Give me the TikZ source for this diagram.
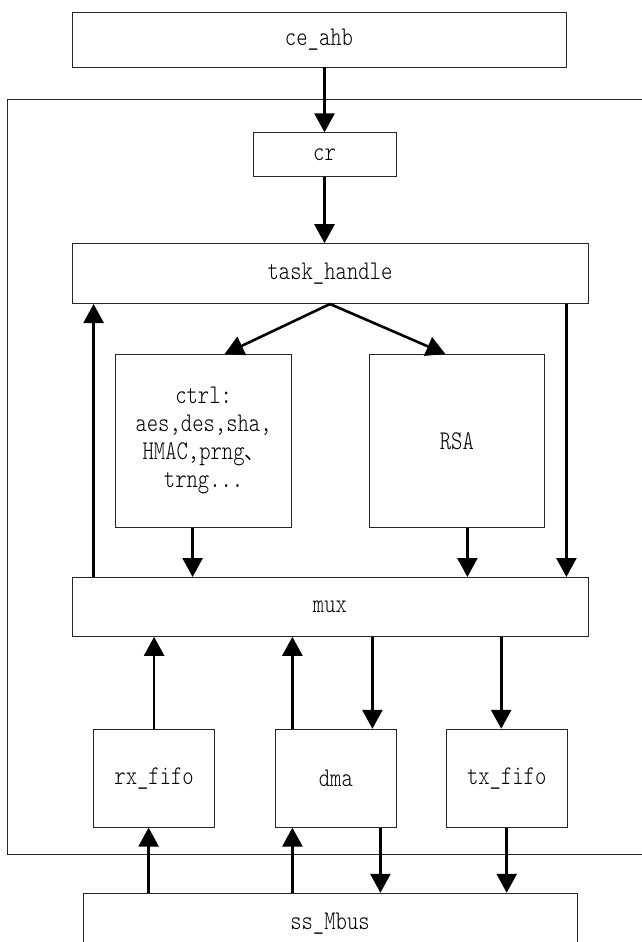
\documentclass[tikz,border=0pt]{standalone}
\usepackage{fontspec}
\newfontfamily\boxfont[FakeStretch=0.8]{lmmonolt10-regular.otf}
\newfontfamily\cjkfont{Noto Sans CJK SC}
\usetikzlibrary{arrows.meta, positioning}

\begin{document}
\begin{tikzpicture}[
        x=1pt, y=1pt,
        node distance=50pt and 60pt,
        font=\boxfont\fontsize{27}{28}\selectfont,
        unit_box/.style={
            rectangle,
            draw=black!85,
            line width=0.8pt,
            fill=white,
            align=center,
            inner sep=0pt
        },
        wide_box/.style={
            unit_box,
            minimum width=516pt,
            minimum height=60pt
        },
        fifo_box/.style={
            unit_box,
            minimum width=121pt,
            minimum height=98pt
        },
        flow/.style={
            -{Triangle[length=19pt, width=20pt]},
            line width=2.6pt
        }
    ]
    \clip (0,0) rectangle (642,-942);

    % Outer frame (runs off the right edge)
    \draw[line width=0.8pt, draw=black!85] (660,-99) -- (7,-99) -- (7,-854) -- (660,-854);

    % Bus interface and config
    \node[unit_box, minimum width=494pt, minimum height=55pt] (ce_ahb) at (319,-39.5) {ce\_ahb};
    \node[unit_box, minimum width=143pt, minimum height=44pt, below=65pt of ce_ahb, xshift=5.5pt] (cr) {cr};
    \node[wide_box, below=66pt of cr, xshift=5.5pt] (task_handle) {task\_handle};

    % Crypto engines
    \node[unit_box, minimum width=176pt, minimum height=173pt, below=50pt of task_handle.south west, xshift=132pt] (ctrl) {ctrl:\\aes,des,sha,\\HMAC,prng{\cjkfont\fontsize{20}{28}\selectfont 、}\\trng...};
    \node[unit_box, minimum width=175pt, minimum height=173pt, right=77pt of ctrl] (rsa) {RSA};

    % Data path
    \node[wide_box, minimum height=59pt, below=273pt of task_handle] (mux) {mux};
    \node[fifo_box, below=92pt of mux.south west, xshift=82.5pt] (rx_fifo) {rx\_fifo};
    \node[fifo_box, right=60pt of rx_fifo] (dma) {dma};
    \node[fifo_box, right=49pt of dma] (tx_fifo) {tx\_fifo};
    \node[unit_box, minimum width=494pt, minimum height=60pt, below=256pt of mux] (ss_mbus) {ss\_Mbus};

    % Arrows, top part
    \draw[flow] (ce_ahb.south -| cr.north) -- (cr.north);
    \draw[flow] (cr.south) -- (cr.south |- task_handle.north);
    \draw[flow] (task_handle.south) -- ([xshift=21pt]ctrl.north);
    \draw[flow] (task_handle.south) -- ([xshift=-11.5pt]rsa.north);
    \draw[flow] ([xshift=22pt]mux.north west) -- ([xshift=22pt]task_handle.south west);
    \draw[flow] ([xshift=-22pt]task_handle.south east) -- ([xshift=-22pt]mux.north east);
    \draw[flow] ([xshift=-11pt]ctrl.south) -- ([xshift=-11pt]ctrl.south |- mux.north);
    \draw[flow] ([xshift=10.5pt]rsa.south) -- ([xshift=10.5pt]rsa.south |- mux.north);

    % Arrows, bottom part
    \draw[flow] (rx_fifo.north) -- (rx_fifo.north |- mux.south);
    \draw[flow] ([xshift=-43.5pt]dma.north) -- ([xshift=-43.5pt]dma.north |- mux.south);
    \draw[flow] ([xshift=36.5pt]dma.north |- mux.south) -- ([xshift=36.5pt]dma.north);
    \draw[flow] ([xshift=-5.5pt]tx_fifo.north |- mux.south) -- ([xshift=-5.5pt]tx_fifo.north);
    \draw[flow] ([xshift=-5.5pt]rx_fifo.south |- ss_mbus.north) -- ([xshift=-5.5pt]rx_fifo.south);
    \draw[flow] ([xshift=-43.5pt]dma.south |- ss_mbus.north) -- ([xshift=-43.5pt]dma.south);
    \draw[flow] ([xshift=44.5pt]dma.south) -- ([xshift=44.5pt]dma.south |- ss_mbus.north);
    \draw[flow] (tx_fifo.south) -- (tx_fifo.south |- ss_mbus.north);

\end{tikzpicture}
\end{document}
